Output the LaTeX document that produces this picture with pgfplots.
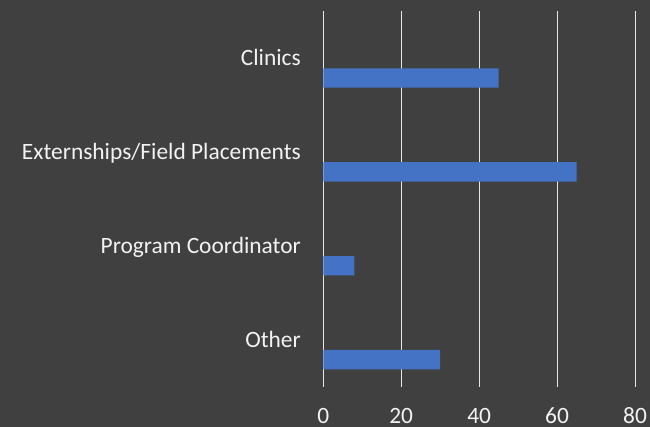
\documentclass[border=0pt]{standalone}
\usepackage{fontspec}
\setmainfont{Carlito}
\usepackage{pgfplots}
\pgfplotsset{compat=1.18}
\definecolor{bgc}{HTML}{404040}
\definecolor{barblue}{HTML}{4472C4}
\definecolor{txt}{HTML}{F2F2F2}
\definecolor{gridc}{HTML}{E6E6E6}
\begin{document}
\begin{tikzpicture}
\useasboundingbox (0,0) rectangle (650bp,427bp);
\fill[bgc] (0,0) rectangle (650bp,427bp);
\begin{axis}[
  at={(323.3bp,40.3bp)}, anchor=south west,
  scale only axis,
  width=311.7bp, height=375.4bp,
  xmin=0, xmax=80,
  ymin=-0.5, ymax=3.5,
  xtick={0,20,40,60,80},
  ytick={0,1,2,3},
  yticklabels={Other, Program Coordinator, Externships/Field Placements, Clinics},
  xmajorgrids,
  grid style={gridc, line width=1bp},
  axis line style={draw=none},
  major tick length=0pt,
  tick style={draw=none},
  font=\fontsize{23.4bp}{27bp}\selectfont,
  tick label style={text=txt},
  /pgf/number format/assume math mode=true,
  xticklabel style={anchor=base, inner sep=0pt, yshift=-36.8bp},
  yticklabel style={anchor=base east, inner sep=0pt, xshift=-22.3bp, yshift=-7.5bp},
  xbar, bar width=19.4bp, bar shift=-19.8bp,
  clip=false,
]
\addplot[fill=barblue, draw=none] coordinates {
  (45,3) (65,2) (8,1) (30,0)
};
\end{axis}
\end{tikzpicture}
\end{document}
